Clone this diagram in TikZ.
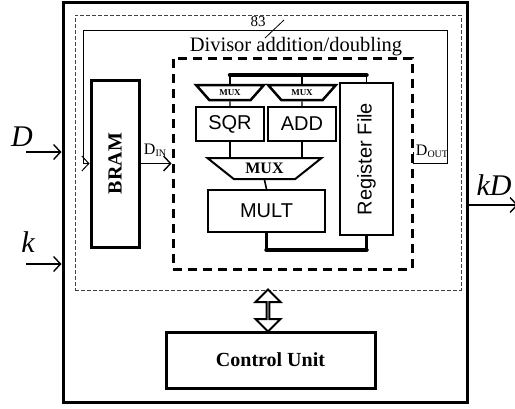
\documentclass[tikz,border=0pt]{standalone}
\usepackage{fontspec}
\usepackage{graphicx}
\setmainfont{Liberation Serif}
\setsansfont{Liberation Sans}
\usetikzlibrary{shapes.geometric,shapes.arrows,arrows.meta}
\newcommand{\fs}[1]{\fontsize{#1}{#1}\selectfont}
\begin{document}
\begin{tikzpicture}[x=1pt, y=-1pt,
  frame/.style={draw, line width=3pt, inner sep=0},
  unit/.style={draw, line width=1.3pt, inner sep=0, font=\sffamily\fs{20}},
  mux/.style={draw, trapezium, trapezium stretches=true, shape border rotate=180, inner sep=0},
  wire/.style={line width=1.2pt},
  bus/.style={line width=4.5pt, line cap=round},
  arrow/.style={-{Straight Barb[length=7pt,width=15pt]}, line width=1.4pt}
]
\useasboundingbox (0,0) rectangle (515,408);
\node[frame, minimum width=404pt, minimum height=400pt] at (265,202) (chip) {};
\node[draw, black!75, dash pattern=on 4pt off 2pt, line width=0.8pt, inner sep=0,
  minimum width=386pt, minimum height=275pt] at (268,152.5) (core) {};
\node[draw, line width=3pt, dash pattern=on 9pt off 6pt, inner sep=0,
  minimum width=239pt, minimum height=211pt] at (292.5,163.5) (dad) {};
\node[font=\fs{20.5}] at (296,47) (dadlabel) {Divisor addition/doubling};

\node[frame, minimum width=48pt, minimum height=167pt, font=\bfseries\fs{20}] at (115,163.5) (bram) {\rotatebox{90}{BRAM}};
\node[frame, minimum width=209pt, minimum height=56pt, font=\bfseries\fs{20}] at (270.5,360) (ctrl) {Control Unit};

\node[mux, line width=2.5pt, minimum width=68pt, minimum height=15pt, trapezium angle=41, font=\bfseries\fs{9}] at (230,92.5) (muxa) {MUX};
\node[mux, line width=2.5pt, minimum width=68pt, minimum height=15pt, trapezium angle=41, font=\bfseries\fs{9}] at (302,92.5) (muxb) {MUX};
\node[unit, minimum width=68pt, minimum height=34pt] at (230,124) (sqr) {SQR};
\node[unit, minimum width=68pt, minimum height=34pt] at (302,124) (add) {ADD};
\node[mux, line width=2pt, minimum width=115pt, minimum height=21pt, trapezium angle=33, font=\bfseries\fs{16}] at (264.5,168.5) (muxc) {MUX};
\node[unit, line width=2pt, minimum width=117pt, minimum height=42pt] at (266.5,211) (mult) {MULT};
\node[unit, minimum width=53pt, minimum height=152pt] at (366.5,159) (rf) {\rotatebox{90}{Register File}};

\node[draw, double arrow, rotate=90, line width=2pt, inner sep=0, minimum height=42pt,
  minimum width=25pt, double arrow head extend=7.5pt] at (268,310.5) (link) {};

\coordinate (busy) at (0,75);
\coordinate (boty) at (0,250);
\draw[bus] (muxa.north |- busy) -- (rf.north |- busy);
\draw[wire] (rf.north |- busy) -- (rf.north);
\draw[wire] (muxa.north |- busy) -- (muxa.north);
\draw[wire] (muxb.north |- busy) -- (muxb.north);
\draw[wire] (muxa.south) -- (sqr.north);
\draw[wire] (muxb.south) -- (add.north);
\draw[line width=2.5pt] (sqr.south) -- (sqr.south |- muxc.north);
\draw[line width=2.5pt] (add.south) -- (add.south |- muxc.north);
\draw[line width=1.6pt] (muxc.south) -- (mult.north);
\draw[line width=3pt] (mult.south) -- (mult.south |- boty);
\draw[line width=3pt] (rf.south) -- (rf.south |- boty);
\draw[bus] (mult.south |- boty) -- (rf.south |- boty);

\coordinate (dsrc) at (26,152);
\coordinate (ksrc) at (26,264);
\coordinate (kdout) at (518,205);
\draw[arrow] (dsrc) -- (dsrc -| chip.west);
\draw[arrow] (ksrc) -- (ksrc -| chip.west);
\draw[arrow] (chip.east |- kdout) -- (kdout);
\node[font=\itshape\fs{30}] at (22,137) (dlabel) {D};
\node[font=\itshape\fs{30}] at (28,242) (klabel) {k};
\node[font=\itshape\fs{30}] at (494,185) (kdlabel) {kD};

\draw[arrow] (bram.east) -- (bram.east -| dad.west);
\node at (155,150) (dinlabel) {\fs{16}D\raisebox{-2pt}{\fs{10}IN}};

\coordinate (fbr) at (447,30);
\coordinate (fbl) at (83,30);
\draw[arrow, line width=1pt] (dad.east |- 0,152) -- (dad.east |- bram) -| (fbr) -| (fbl) |- (bram.west);
\node at (432,151) (doutlabel) {\fs{16}D\raisebox{-2pt}{\fs{10}OUT}};
\draw[line width=0.8pt] (265,38) -- (284,20);
\node[font=\fs{15}] at (258,22) (width) {83};
\end{tikzpicture}
\end{document}
